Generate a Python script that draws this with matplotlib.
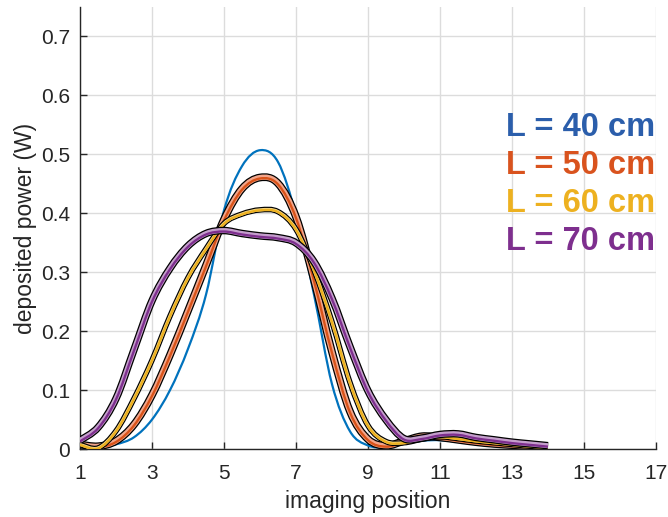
import matplotlib
matplotlib.use("Agg")
import matplotlib.pyplot as plt
import matplotlib.transforms as mtransforms
from matplotlib.path import Path
from matplotlib.patches import PathPatch
import numpy as np

plt.rcParams['font.family'] = ['Liberation Sans', 'DejaVu Sans']

# imaging positions (x)
positions = [1, 1.5, 2, 2.5, 3, 3.5, 4, 4.5, 5, 5.5, 6, 6.5, 7, 7.5, 8, 8.5,
             9, 9.5, 10, 10.5, 11, 11.5, 12, 12.5, 13, 13.5, 14]

# deposited power (W)
power_40 = [0.005, 0.004, 0.008, 0.020, 0.050, 0.100, 0.170, 0.262, 0.405, 0.480,
            0.507, 0.487, 0.397, 0.262, 0.110, 0.030, 0.006, 0.003, 0.009, 0.014,
            0.015, 0.012, 0.008, 0.005, 0.003, 0.001, 0.000]
power_50 = [0.006, 0.003, 0.012, 0.040, 0.090, 0.158, 0.233, 0.310, 0.388, 0.440,
            0.459, 0.449, 0.392, 0.285, 0.163, 0.062, 0.015, 0.004, 0.012, 0.020,
            0.018, 0.014, 0.010, 0.007, 0.005, 0.003, 0.002]
power_60 = [0.007, 0.001, 0.030, 0.085, 0.150, 0.225, 0.290, 0.339, 0.382, 0.398,
            0.405, 0.402, 0.372, 0.303, 0.215, 0.112, 0.039, 0.012, 0.010, 0.016,
            0.020, 0.017, 0.013, 0.010, 0.007, 0.004, 0.002]
power_70 = [0.013, 0.035, 0.084, 0.167, 0.250, 0.305, 0.343, 0.364, 0.369, 0.364,
            0.360, 0.357, 0.348, 0.316, 0.254, 0.172, 0.097, 0.048, 0.016, 0.017,
            0.023, 0.024, 0.018, 0.014, 0.010, 0.007, 0.004]

labels = ["L = 40 cm", "L = 50 cm", "L = 60 cm", "L = 70 cm"]
x_ticks = [1, 3, 5, 7, 9, 11, 13, 15, 17]
y_ticks = [0, 0.1, 0.2, 0.3, 0.4, 0.5, 0.6, 0.7]

c_blue = "#0072BD"
c_orange = "#D95319"
c_yellow = "#EDB120"
c_purple = "#7E2F8E"
text_colors = ["#2B5EAB", "#D9531E", "#EDB120", "#7E2F8E"]

fig = plt.figure(figsize=(6.68, 5.17), dpi=100)
ax = fig.add_axes([0.1198, 0.1315, 0.982 - 0.1198, 0.9865 - 0.1315])
ax.set_xlim(1, 17)
ax.set_ylim(0, 0.75)


def smooth_path(xs, ys):
    pts = np.column_stack([np.asarray(xs, float), np.asarray(ys, float)])
    n = len(pts)
    verts = [pts[0]]
    codes = [Path.MOVETO]
    for i in range(n - 1):
        p0 = pts[i - 1] if i > 0 else pts[i]
        p1 = pts[i]
        p2 = pts[i + 1]
        p3 = pts[i + 2] if i + 2 < n else pts[i + 1]
        c1 = p1 + (p2 - p0) / 6.0
        c2 = p2 - (p3 - p1) / 6.0
        verts += [c1, c2, p2]
        codes += [Path.CURVE4] * 3
    return Path(np.array(verts), codes)


def draw_line(vals, color, lw, z, transform=None):
    p = PathPatch(smooth_path(positions, vals), facecolor='none',
                  edgecolor=color, lw=lw, zorder=z, capstyle='butt',
                  joinstyle='round')
    ax.add_patch(p)
    if transform is not None:
        p.set_transform(transform)
    return p


def band(vals, color, fill, outer, inner, shift, z):
    tr = mtransforms.offset_copy(ax.transData, fig=fig, x=0, y=shift,
                                 units='points')
    draw_line(vals, 'black', outer, z, tr)
    draw_line(vals, fill, inner, z + 0.1, tr)
    draw_line(vals, color, 1.7, z + 0.2)


draw_line(power_40, c_blue, 1.6, 3)
band(power_50, c_orange, "#F2A58A", 5.6, 3.8, 0.7, 4)
band(power_60, c_yellow, "#F5D98C", 4.0, 2.3, 0.3, 5)
band(power_70, c_purple, "#C49ECC", 5.4, 3.6, 0.7, 6)

ax.set_xticks(x_ticks)
ax.set_yticks(y_ticks)
ax.set_xticklabels([str(t) for t in x_ticks])
ax.set_yticklabels(["0"] + [f"{t:.1f}" for t in y_ticks[1:]])
ax.grid(True, color="#DCDCDC", lw=1.0)
ax.set_axisbelow(True)
for s in ["top", "right"]:
    ax.spines[s].set_visible(False)
for s in ["left", "bottom"]:
    ax.spines[s].set_color("#262626")
    ax.spines[s].set_linewidth(1.0)
ax.tick_params(direction='in', length=5, width=1.0, colors="#262626",
               labelsize=15, labelcolor="#262626")
ax.tick_params(axis='x', pad=11)
ax.tick_params(axis='y', pad=7)
ax.set_xlabel("imaging position", fontsize=16.5, color="#262626", labelpad=5)
ax.set_ylabel("deposited power (W)", fontsize=16.5, color="#262626", labelpad=3)

ys = [128, 165, 204, 242]
for lab, col, yp in zip(labels, text_colors, ys):
    fig.text(655 / 668, 1 - yp / 517, lab, color=col, fontsize=23.5,
             fontweight='bold', ha='right', va='center')

fig.savefig("out.png", dpi=100)
